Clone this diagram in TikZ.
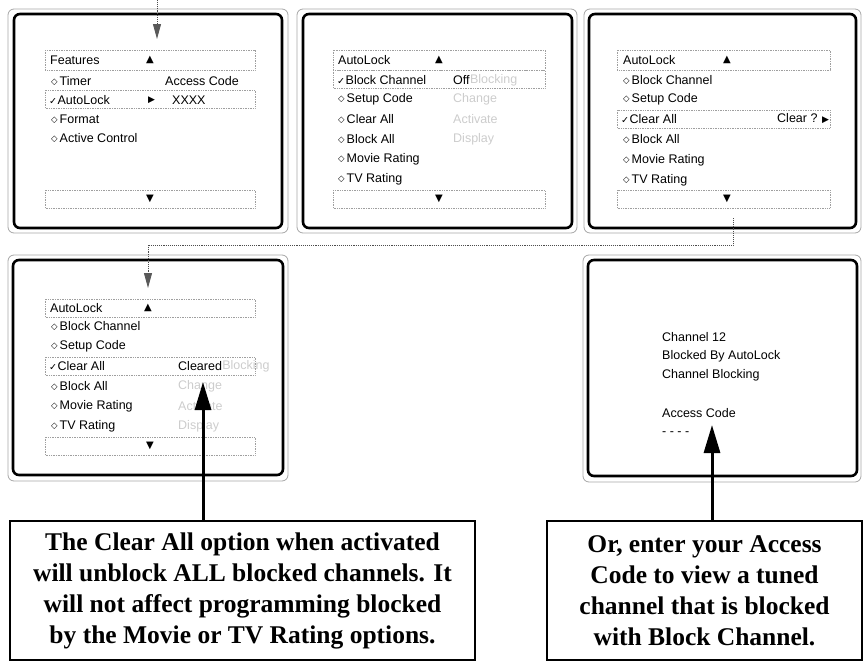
\documentclass[tikz,border=0pt]{standalone}
\usepackage{fontspec}
\setmainfont{Liberation Sans}
\newfontfamily\serifb{Liberation Serif}
\newfontfamily\symf{DejaVu Sans}
\usetikzlibrary{arrows.meta}
\newcommand\dm{\raisebox{0.6pt}{\symf\fontsize{8.5}{9}\selectfont ◇}\hspace{2pt}}
\newcommand\ck{\raisebox{0.3pt}{\symf\fontsize{9.5}{10}\selectfont ✓}\hspace{0.5pt}}
\newcommand\rt{{\symf\fontsize{9}{9}\selectfont ▶}}
\begin{document}
\begin{tikzpicture}[x=1pt,y=-1pt,
  outerframe/.style={draw=gray!70, line width=0.8pt, rounded corners=6pt},
  innerframe/.style={draw=black, line width=2.6pt, rounded corners=6pt},
  dbox/.style={draw=gray!75, densely dotted, line width=0.7pt},
  menu/.style={anchor=west, inner sep=0pt, font=\fontsize{12.5}{14}\selectfont},
  faded/.style={menu, text=gray!40},
  sym/.style={inner sep=0pt, font=\symf\fontsize{10}{10}\selectfont},
  tbox/.style={draw, line width=1.6pt, align=center, inner sep=0pt,
    font=\serifb\bfseries\fontsize{25.5}{31}\selectfont},
  bigarrow/.style={line width=3pt, -{Triangle[length=28pt,width=16pt]}},
  conn/.style={densely dotted, gray!60!black, line width=0.9pt,
    -{Triangle[length=15pt,width=8pt,color=gray!70!black]}}
]
\useasboundingbox (0,0) rectangle (868,662);

% ---------- screen frames ----------
\draw[outerframe] (8,9) rectangle (288,233);
\draw[innerframe] (14,14) rectangle (282,228);
\draw[outerframe] (297,9) rectangle (577,233);
\draw[innerframe] (303,14) rectangle (572,228);
\draw[outerframe] (584,9) rectangle (861,233);
\draw[innerframe] (589,14) rectangle (856,228);
\draw[outerframe] (8,255) rectangle (288,481);
\draw[innerframe] (13,260) rectangle (283,475);
\draw[outerframe] (583,255) rectangle (861,482);
\draw[innerframe] (588,260) rectangle (857,476);

% ---------- screen 1 ----------
\draw[dbox] (45,50) rectangle (255,70);
\draw[dbox] (45,90) rectangle (255,108);
\draw[dbox] (45,190) rectangle (255,208);
\node[menu] (a0) at (50,60) {Features};
\node[sym] (aup) at (150,60) {▲};
\node[menu] (a1) at (51,81) {\dm Timer};
\node[menu] (a1r) at (165,81) {Access Code};
\node[menu] (a2) at (49,100) {\ck AutoLock};
\node[menu] (a2m) at (148,100) {\rt};
\node[menu] (a2r) at (172,100) {XXXX};
\node[menu] (a3) at (51,119) {\dm Format};
\node[menu] (a4) at (51,138) {\dm Active Control};
\node[sym] (adn) at (150,199) {▼};

% ---------- screen 2 ----------
\draw[dbox] (333,50) rectangle (545,70);
\draw[dbox] (333,70) rectangle (545,88);
\draw[dbox] (333,190) rectangle (545,208);
\node[menu] (b0) at (338,60) {AutoLock};
\node[sym] (bup) at (439,60) {▲};
\node[menu] (b1) at (337,80) {\ck Block Channel};
\node[menu] (b1r) at (453,80) {Off};
\node[faded, anchor=west] (b1g) at (b1r.east) {Blocking};
\node[menu] (b2) at (338,99) {\dm Setup Code};
\node[faded] (b2r) at (453,99) {Change};
\node[menu] (b3) at (338,119) {\dm Clear All};
\node[faded] (b3r) at (453,119) {Activate};
\node[menu] (b4) at (338,139) {\dm Block All};
\node[faded] (b4r) at (453,139) {Display};
\node[menu] (b5) at (338,159) {\dm Movie Rating};
\node[menu] (b6) at (338,179) {\dm TV Rating};
\node[sym] (bdn) at (439,199) {▼};

% ---------- screen 3 ----------
\draw[dbox] (617,50) rectangle (830,70);
\draw[dbox] (617,110) rectangle (830,128);
\draw[dbox] (617,190) rectangle (830,208);
\node[menu] (c0) at (623,60) {AutoLock};
\node[sym] (cup) at (727,60) {▲};
\node[menu] (c1) at (623,80) {\dm Block Channel};
\node[menu] (c2) at (623,99) {\dm Setup Code};
\node[menu] (c3) at (621,119) {\ck Clear All};
\node[menu] (c3r) at (777,119) {Clear ? \rt};
\node[menu] (c4) at (623,139) {\dm Block All};
\node[menu] (c5) at (623,160) {\dm Movie Rating};
\node[menu] (c6) at (623,180) {\dm TV Rating};
\node[sym] (cdn) at (727,199) {▼};

% ---------- screen 4 ----------
\draw[dbox] (45,299) rectangle (255,317);
\draw[dbox] (45,357) rectangle (255,375);
\draw[dbox] (45,437) rectangle (255,455);
\node[menu] (d0) at (50,308) {AutoLock};
\node[sym] (dup) at (148,308) {▲};
\node[menu] (d1) at (51,326) {\dm Block Channel};
\node[menu] (d2) at (51,346) {\dm Setup Code};
\node[menu] (d3) at (49,366) {\ck Clear All};
\node[menu] (d3r) at (178,366) {Cleared};
\node[faded, anchor=west] (d3g) at (d3r.east) {Blocking};
\node[menu] (d4) at (51,386) {\dm Block All};
\node[faded] (d4r) at (178,386) {Change};
\node[menu] (d5) at (51,406) {\dm Movie Rating};
\node[faded] (d5r) at (178,406) {Activate};
\node[menu] (d6) at (51,426) {\dm TV Rating};
\node[faded] (d6r) at (178,426) {Display};
\node[sym] (ddn) at (150,446) {▼};

% ---------- screen 5 ----------
\node[menu] (e1) at (662,337) {Channel 12};
\node[menu] (e2) at (662,356) {Blocked By AutoLock};
\node[menu] (e3) at (662,375) {Channel Blocking};
\node[menu] (e4) at (662,413) {Access Code};
\node[menu] (e5) at (662,434) {- - - -};

% ---------- dotted connectors ----------
\coordinate (p0) at (157,0);
\coordinate (p1) at (157,39);
\draw[conn] (p0) -- (p1);
\coordinate (q0) at (733,218);
\coordinate (q1) at (148,288);
\draw[conn] (q0) -- ++(0,27) -| (q1);

% ---------- text boxes ----------
\node[tbox, minimum width=465pt, minimum height=139pt] (tb1) at (242.5,590.5)
  {The Clear All option when activated\\will unblock ALL blocked channels. It\\will not affect programming blocked\\by the Movie or TV Rating options.};
\node[tbox, minimum width=315pt, minimum height=139pt] (tb2) at (704.5,590.5)
  {Or, enter your Access\\Code to view a tuned\\channel that is blocked\\with Block Channel.};

% ---------- big arrows ----------
\coordinate (t1) at (203,382);
\coordinate (t2) at (712,425);
\draw[bigarrow] (tb1.north -| t1) -- (t1);
\draw[bigarrow] (tb2.north -| t2) -- (t2);
\end{tikzpicture}
\end{document}
